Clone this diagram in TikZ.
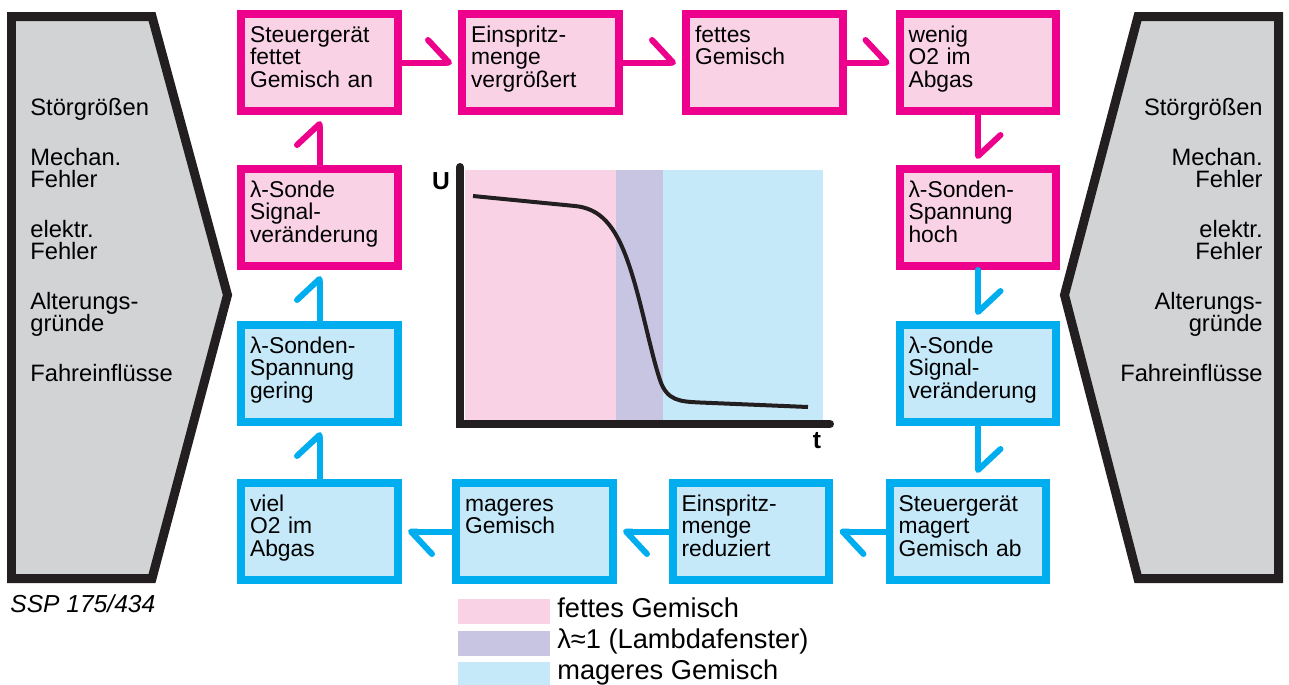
\documentclass[tikz,border=0pt]{standalone}
\usepackage{fontspec}
\setmainfont{Liberation Sans}
\usetikzlibrary{arrows.meta}

\definecolor{rimMag}{HTML}{EC008C}
\definecolor{fillRich}{HTML}{F9D3E5}
\definecolor{fillWin}{HTML}{C7C5E1}
\definecolor{rimCyan}{HTML}{00AEEF}
\definecolor{fillLean}{HTML}{C6E9F9}
\definecolor{inkBlack}{HTML}{231F20}
\definecolor{sideGray}{HTML}{D1D3D4}

\begin{document}
\begin{tikzpicture}[
  x=0.02cm, y=-0.02cm,
  font=\fontsize{13}{13}\selectfont,
  box/.style={draw, line width=0.16cm, inner xsep=0.18cm, inner ysep=0pt, text width=2.78cm,
    text height=0.56cm, text depth=1.38cm, align=left},
  rich/.style={box, draw=rimMag, fill=fillRich},
  lean/.style={box, draw=rimCyan, fill=fillLean},
  harp/.style={line width=0.12cm, line cap=round, shorten >=0.12cm,
    -{Straight Barb[harpoon, length=0.42cm, width=0.9cm, round]}},
  side/.style={draw=inkBlack, line width=0.18cm, fill=sideGray, line join=miter},
  sidetext/.style={text width=3.2cm, inner sep=0pt, font=\fontsize{13.5}{13}\selectfont},
  key/.style={minimum width=1.84cm, minimum height=0.5cm, inner sep=0pt},
  keytext/.style={anchor=base west, inner sep=0pt, font=\fontsize{15.5}{15.5}\selectfont}
]
\useasboundingbox (0,0) rectangle (1289,684);

% disturbance blocks
\draw[side] (11.5,16.5) -- (152,16.5) -- (227.5,295) -- (152,578.5) -- (11.5,578.5) -- cycle;
\draw[side] (1278.5,16.5) -- (1138,16.5) -- (1064.5,295) -- (1138,578.5) -- (1278.5,578.5) -- cycle;
\node[sidetext, align=left, anchor=base west] (distL) at (30,115)
  {Störgrößen\\[15.5pt]Mechan.\\Fehler\\[15pt]elektr.\\Fehler\\[15pt]Alterungs-\\gründe\\[15pt]Fahreinflüsse};
\node[sidetext, align=right, anchor=base east] (distR) at (1263,115)
  {Störgrößen\\[15.5pt]Mechan.\\Fehler\\[15pt]elektr.\\Fehler\\[15pt]Alterungs-\\gründe\\[15pt]Fahreinflüsse};
\node[anchor=base west, inner sep=0pt, font=\fontsize{14}{14}\selectfont\itshape] (ssp) at (10,612) {SSP 175/434};

% rich half of the loop
\node[rich] (fettAn) at (319.5,62.5) {Steuergerät\\fettet\\Gemisch an};
\node[rich] (mengeHoch) at (540.5,62.5) {Einspritz-\\menge\\vergrößert};
\node[rich] (fett) at (764.5,62.5) {fettes\\Gemisch};
\node[rich] (wenigO) at (978,62.5) {wenig\\O2 im\\Abgas};
\node[rich] (sondeHoch) at (978,217.5) {λ-Sonden-\\Spannung\\hoch};
\node[rich] (signalL) at (319.5,217.5) {λ-Sonde\\Signal-\\veränderung};

% lean half of the loop
\node[lean] (signalR) at (978,373.5) {λ-Sonde\\Signal-\\veränderung};
\node[lean] (magertAb) at (968,531.5) {Steuergerät\\magert\\Gemisch ab};
\node[lean] (mengeRed) at (751,531.5) {Einspritz-\\menge\\reduziert};
\node[lean] (mager) at (534.5,531.5) {mageres\\Gemisch};
\node[lean] (vielO) at (319.5,531.5) {viel\\O2 im\\Abgas};
\node[lean] (sondeGering) at (319.5,373.5) {λ-Sonden-\\Spannung\\gering};

\draw[harp, rimMag] (fettAn) -- (mengeHoch);
\draw[harp, rimMag] (mengeHoch) -- (fett);
\draw[harp, rimMag] (fett) -- (wenigO);
\draw[harp, rimMag] (wenigO) -- (sondeHoch);
\draw[harp, rimCyan] (sondeHoch) -- (signalR);
\draw[harp, rimCyan] (signalR.south) -- (signalR.south |- magertAb.north);
\draw[harp, rimCyan] (magertAb.west |- mengeRed.east) -- (mengeRed.east);
\draw[harp, rimCyan] (mengeRed) -- (mager);
\draw[harp, rimCyan] (mager) -- (vielO);
\draw[harp, rimCyan] (vielO) -- (sondeGering);
\draw[harp, rimCyan] (sondeGering) -- (signalL);
\draw[harp, rimMag] (signalL) -- (fettAn);

% probe voltage curve
\fill[fillRich] (465,170) rectangle (616,424);
\fill[fillWin] (616,170) rectangle (663,424);
\fill[fillLean] (663,170) rectangle (823,424);
\draw[inkBlack, line width=0.16cm, line cap=round] (460,167) -- (460,424) -- (830,424);
\draw[inkBlack, line width=0.08cm] (473,196) -- (575,206)
  .. controls (600,208.5) and (615,225) .. (628,262)
  .. controls (641,299) and (650,350) .. (660,380)
  .. controls (667,401) and (680,401.5) .. (700,402.5) -- (808,407);
\node[font=\fontsize{14}{14}\selectfont\bfseries] (uLab) at (441,181) {U};
\node[font=\fontsize{14}{14}\selectfont\bfseries] (tLab) at (817,441) {t};

% legend
\node[key, fill=fillRich] (keyRich) at (504,611.5) {};
\node[key, fill=fillWin] (keyWin) at (504,643.5) {};
\node[key, fill=fillLean] (keyLean) at (504,674.5) {};
\node[keytext] (txtRich) at (557,617) {fettes Gemisch};
\node[keytext] (txtWin) at (557,648) {λ≈1 (Lambdafenster)};
\node[keytext] (txtLean) at (557,679) {mageres Gemisch};

\end{tikzpicture}
\end{document}
